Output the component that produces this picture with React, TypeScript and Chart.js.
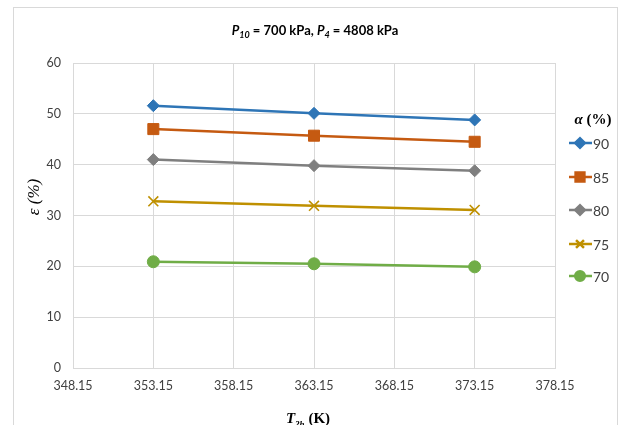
import React, { useEffect, useRef } from "react";
import { Chart, registerables } from "chart.js";
import { drawPoint } from "chart.js/helpers";

Chart.register(...registerables);

// ---- data ----
const temperatures = [353.15, 363.15, 373.15];
const alphaLabels = ["90", "85", "80", "75", "70"];
const eps90 = [51.6, 50.1, 48.8];
const eps85 = [47.0, 45.7, 44.5];
const eps80 = [41.0, 39.8, 38.8];
const eps75 = [32.8, 31.9, 31.1];
const eps70 = [20.9, 20.5, 19.9];
const xTickValues = [348.15, 353.15, 358.15, 363.15, 368.15, 373.15, 378.15];
const yTickValues = [0, 10, 20, 30, 40, 50, 60];

const seriesValues = [eps90, eps85, eps80, eps75, eps70];
const colors = ["#2E75B6", "#C55A11", "#7F7F7F", "#BF9000", "#70AD47"];
const styles = ["rectRot", "rect", "rectRot", "crossRot", "circle"];
const radii = [6, 7.8, 6, 7, 6];

type Seg = { t: string; font: string; dy?: number };

function drawRich(ctx: CanvasRenderingContext2D, segs: Seg[], cx: number, y: number, color: string) {
  let total = 0;
  for (const s of segs) {
    ctx.font = s.font;
    total += ctx.measureText(s.t).width;
  }
  let x = cx - total / 2;
  ctx.fillStyle = color;
  ctx.textAlign = "left";
  ctx.textBaseline = "alphabetic";
  for (const s of segs) {
    ctx.font = s.font;
    ctx.fillText(s.t, x, y + (s.dy || 0));
    x += ctx.measureText(s.t).width;
  }
}

const decorPlugin = {
  id: "decor",
  beforeDraw(chart: any) {
    const ctx = chart.ctx as CanvasRenderingContext2D;
    ctx.save();
    ctx.fillStyle = "#ffffff";
    ctx.fillRect(0, 0, chart.width, chart.height);
    ctx.strokeStyle = "#d9d9d9";
    ctx.lineWidth = 1;
    ctx.strokeRect(13.5, 7.5, 604, 440);
    ctx.restore();
  },
  afterDraw(chart: any) {
    const ctx = chart.ctx as CanvasRenderingContext2D;
    ctx.save();
    const tf = "Lato";
    drawRich(
      ctx,
      [
        { t: "P", font: `italic bold 13px ${tf}` },
        { t: "10", font: `italic bold 9px ${tf}`, dy: 3 },
        { t: " = 700 kPa, ", font: `bold 13px ${tf}` },
        { t: "P", font: `italic bold 13px ${tf}` },
        { t: "4", font: `italic bold 9px ${tf}`, dy: 3 },
        { t: " = 4808 kPa", font: `bold 13px ${tf}` },
      ],
      315,
      35,
      "#000000"
    );
    drawRich(
      ctx,
      [
        { t: "T", font: `italic bold 15px "Liberation Serif"` },
        { t: "2h", font: `italic bold 9px "Liberation Serif"`, dy: 4 },
        { t: " (K)", font: `bold 15px "Liberation Serif"` },
      ],
      308,
      423,
      "#000000"
    );
    ctx.save();
    ctx.translate(39, 197);
    ctx.rotate(-Math.PI / 2);
    drawRich(ctx, [{ t: "ε (%)", font: `italic 17px "Liberation Serif"` }], 0, 0, "#000000");
    ctx.restore();
    drawRich(
      ctx,
      [
        { t: "α", font: `italic bold 15px "Liberation Serif"` },
        { t: " (%)", font: `bold 15px "Liberation Serif"` },
      ],
      593,
      124,
      "#000000"
    );
    const ys = [143, 177, 210, 244, 276];
    chart.data.datasets.forEach((ds: any, i: number) => {
      const y = ys[i];
      ctx.strokeStyle = ds.borderColor;
      ctx.lineWidth = 2.5;
      ctx.beginPath();
      ctx.moveTo(569, y);
      ctx.lineTo(592, y);
      ctx.stroke();
      ctx.fillStyle = ds.pointBackgroundColor;
      ctx.strokeStyle = ds.pointBorderColor;
      drawPoint(ctx, { pointStyle: ds.pointStyle, radius: ds.pointRadius * 0.8, rotation: 0, borderWidth: ds.pointBorderWidth }, 580, y);
      ctx.fillStyle = "#404040";
      ctx.font = `14px Lato`;
      ctx.textAlign = "left";
      ctx.textBaseline = "middle";
      ctx.fillText(ds.label, 593, y + 1);
    });
    ctx.restore();
  },
};

export default function App() {
  const ref = useRef<HTMLCanvasElement | null>(null);
  useEffect(() => {
    if (!ref.current) return;
    const datasets = seriesValues.map((vals, i) => ({
      label: alphaLabels[i],
      data: temperatures.map((t, j) => ({ x: t, y: vals[j] })),
      borderColor: colors[i],
      backgroundColor: colors[i],
      pointBackgroundColor: colors[i],
      pointBorderColor: colors[i],
      pointStyle: styles[i],
      pointRadius: radii[i],
      pointBorderWidth: styles[i] === "crossRot" ? 1.6 : 1,
      borderWidth: 2.5,
      tension: 0,
      fill: false,
    }));
    const chart = new Chart(ref.current, {
      type: "line",
      data: { datasets },
      plugins: [decorPlugin],
      options: {
        animation: false,
        responsive: false,
        devicePixelRatio: 1,
        layout: { padding: { left: 0, top: 63, right: 64, bottom: 0 } },
        plugins: { legend: { display: false }, title: { display: false }, tooltip: { enabled: false } },
        scales: {
          x: {
            type: "linear",
            min: 348.15,
            max: 378.15,
            afterBuildTicks: (axis: any) => {
              axis.ticks = xTickValues.map((v) => ({ value: v }));
            },
            afterFit: (axis: any) => {
              axis.height = 57;
            },
            ticks: {
              callback: (v: any) => Number(v).toFixed(2),
              color: "#404040",
              font: { family: "Lato", size: 12.5 },
              padding: 10,
              maxRotation: 0,
              autoSkip: false,
            },
            grid: { color: "#d9d9d9", drawTicks: false, lineWidth: 1 },
            border: { color: "#d9d9d9" },
          },
          y: {
            type: "linear",
            min: 0,
            max: 60,
            afterBuildTicks: (axis: any) => {
              axis.ticks = yTickValues.map((v) => ({ value: v }));
            },
            afterFit: (axis: any) => {
              axis.width = 73;
            },
            ticks: {
              color: "#404040",
              font: { family: "Lato", size: 12.5 },
              padding: 12,
            },
            grid: { color: "#d9d9d9", drawTicks: false, lineWidth: 1 },
            border: { color: "#d9d9d9" },
          },
        },
      },
    } as any);
    return () => chart.destroy();
  }, []);
  return (
    <div style={{ position: "fixed", left: 0, top: 0, width: 619, height: 425, background: "#fff" }}>
      <canvas ref={ref} width={619} height={425} style={{ display: "block" }} />
    </div>
  );
}
